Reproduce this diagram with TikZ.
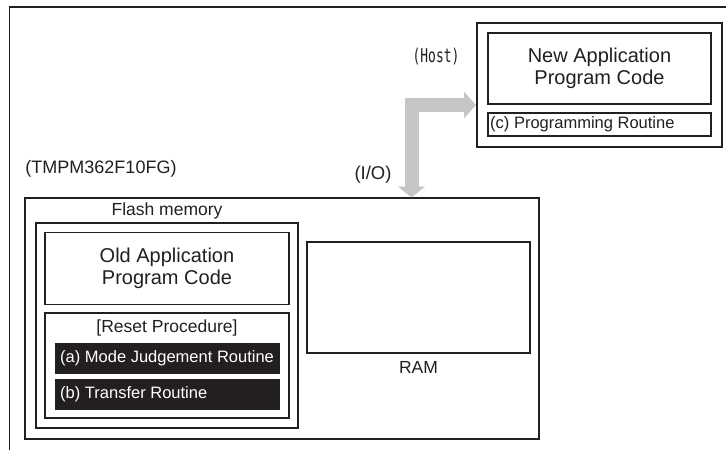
\documentclass[tikz,border=0pt]{standalone}
\usepackage{fontspec}
\setmainfont{Liberation Sans}
\newfontfamily\hostfont{DejaVu Sans Mono}
\usetikzlibrary{arrows.meta}
\definecolor{ink}{HTML}{231F20}
\definecolor{arrowgray}{HTML}{C6C6C6}
\tikzset{
  box/.style={draw=ink, line width=1.8pt, inner sep=0pt, fill=none},
  darkbox/.style={draw=ink, fill=ink, line width=1pt, inner sep=0pt},
  bigtext/.style={font=\fontsize{20}{22}\selectfont, align=center, text=ink},
  midtext/.style={font=\fontsize{17.5}{20}\selectfont, text=ink, inner sep=0pt},
  smalltext/.style={font=\fontsize{16.5}{19}\selectfont, inner sep=0pt},
  bigarrow/.style={draw=arrowgray, line width=14pt, line join=miter,
    {Triangle[width=27pt,length=11pt]}-{Triangle[width=26pt,length=12pt]}}
}
\begin{document}
\begin{tikzpicture}[x=1pt,y=-1pt]
\useasboundingbox (0,0) rectangle (726,450);
\clip (0,0) rectangle (726,450);
% outer frame (extends beyond the picture)
\draw[ink, line width=1.8pt] (9.5,7) rectangle (760,480);

% host side
\node[box, minimum width=245pt, minimum height=124pt] (host) at (599.5,85) {};
\node[box, bigtext, minimum width=223pt, minimum height=71pt] (newapp) at (599.5,68.5)
  {New Application\\Program Code};
\node[box, minimum width=223pt, minimum height=23pt] (progr) at (599.5,124.5) {};
\node[smalltext, text=ink, anchor=west] (progrtxt) at (490,124.5) {(c) Programming Routine};
\node[inner sep=0pt, text=ink] (hostlbl) at (436,57)
  {\hostfont\fontsize{19}{22}\selectfont\scalebox{0.68}[1]{(Host)}};

% device
\node[midtext, font=\fontsize{18}{20}\selectfont] (devlbl) at (101,169) {(TMPM362F10FG)};
\node[midtext, font=\fontsize{18.5}{20}\selectfont] (iolbl) at (373,175) {(I/O)};
\node[box, minimum width=514pt, minimum height=241pt] (tmpm) at (282,318.5) {};
\node[midtext] (flashlbl) at (167,211) {Flash memory};
\node[box, minimum width=262pt, minimum height=205pt] (flash) at (167,325.5) {};
\node[box, bigtext, minimum width=244pt, minimum height=72pt] (oldapp) at (167,268.5)
  {Old Application\\Program Code};
\node[box, minimum width=244pt, minimum height=105pt] (reset) at (167,365.5) {};
\node[midtext] (resetlbl) at (167,327.5) {[Reset Procedure]};
\node[darkbox, minimum width=224pt, minimum height=30pt] (modea) at (167,358) {};
\node[smalltext, text=white, anchor=west] (modeatxt) at (60,358) {(a) Mode Judgement Routine};
\node[darkbox, minimum width=224pt, minimum height=30pt] (trans) at (167,394) {};
\node[smalltext, text=white, anchor=west] (transtxt) at (60,394) {(b) Transfer Routine};
\node[box, minimum width=223pt, minimum height=111pt] (ram) at (418.5,297.5) {};
\node[midtext, font=\fontsize{17.5}{20}\selectfont] (ramlbl) at (418.5,367) {RAM};

% I/O arrow between device and host
\coordinate (ioend) at (411.5,197.5);
\coordinate (hostend) at (476,105);
\draw[bigarrow] (ioend) |- (hostend);
\end{tikzpicture}
\end{document}
